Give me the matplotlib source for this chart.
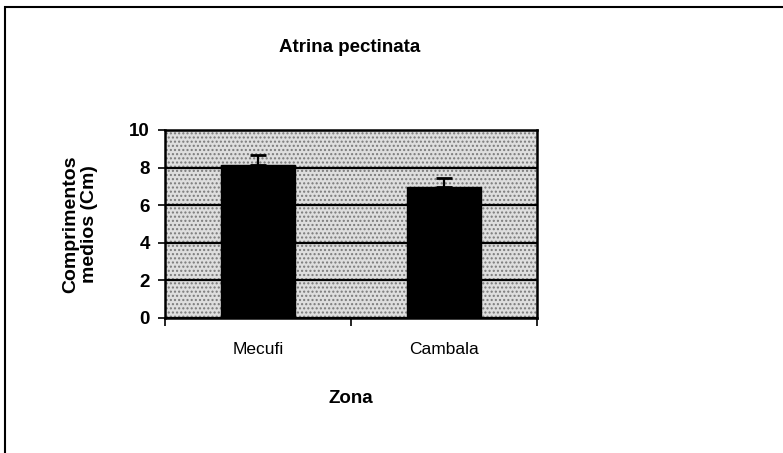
import numpy as np
import matplotlib.pyplot as plt
from matplotlib.patches import Rectangle

plt.rcParams["font.family"] = ["Liberation Sans", "DejaVu Sans"]

zonas = ["Mecufi", "Cambala"]
comprimentos = [8.15, 6.95]
erros = [0.5, 0.5]
y_ticks = [0, 2, 4, 6, 8, 10]

fig = plt.figure(figsize=(7.83, 4.53), dpi=100)
ax = fig.add_axes([165 / 783, 135 / 453, 372 / 783, 188 / 453])

# fundo cinzento pontilhado
ax.set_facecolor("#dedede")
ax.add_patch(Rectangle((0, 0), 1, 1, transform=ax.transAxes, facecolor="none",
                       edgecolor="#7a7a7a", hatch="....", linewidth=0, zorder=0))

x = np.arange(len(zonas))
ax.bar(x, comprimentos, width=0.4, color="black", edgecolor="black", zorder=3)
ax.errorbar(x, comprimentos, yerr=[[0] * len(erros), erros], fmt="none",
            ecolor="black", elinewidth=1.6, capsize=5.5, capthick=2, zorder=4)

ax.set_xlim(-0.5, 1.5)
ax.set_ylim(0, 10)
ax.set_yticks(y_ticks)
ax.set_yticklabels([str(t) for t in y_ticks], fontsize=13.5, fontweight="bold")
ax.yaxis.grid(True, color="black", linewidth=1.6, zorder=1)
ax.set_axisbelow(True)

ax.set_xticks([-0.5, 0.5, 1.5])
ax.set_xticklabels([])
ax.set_xticks(x, minor=True)
ax.set_xticklabels(zonas, minor=True, fontsize=12.5)
ax.tick_params(axis="x", which="minor", length=0, pad=17)
ax.tick_params(axis="x", which="major", length=6, width=1.2, direction="out")
ax.tick_params(axis="y", length=5, width=1.2, direction="out", pad=6)

for s in ax.spines.values():
    s.set_linewidth(1.8)
    s.set_color("black")

ax.set_xlabel("Zona", fontsize=13.5, fontweight="bold", labelpad=24)
ax.set_ylabel("Comprimentos\nmedios (Cm)", fontsize=14, fontweight="bold", labelpad=22)

fig.text(350 / 783, 1 - 47 / 453, "Atrina pectinata", ha="center", va="center",
         fontsize=13.5, fontweight="bold")

# moldura exterior do grafico
fig.add_artist(Rectangle((5 / 783, -0.1), 1.2, 1.1 - 7 / 453, transform=fig.transFigure,
                         facecolor="none", edgecolor="black", linewidth=1.5, clip_on=False))

fig.savefig("out.png", dpi=100)
